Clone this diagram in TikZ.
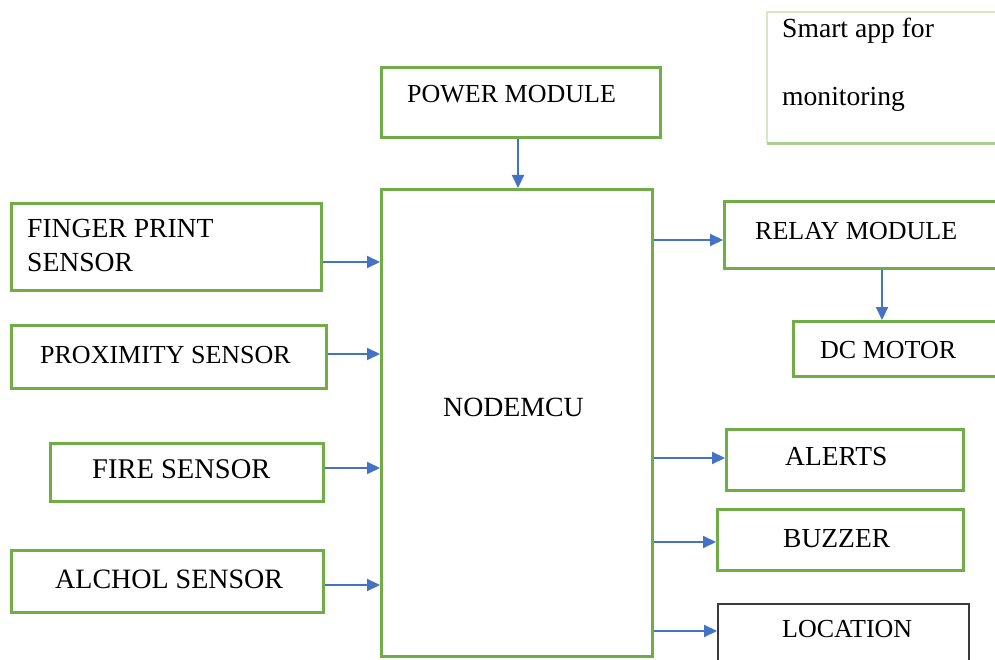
\documentclass[tikz,border=0pt]{standalone}
\usepackage{fontspec}
\setmainfont{Liberation Serif}
\usetikzlibrary{arrows.meta}
\definecolor{boxgreen}{HTML}{70AD47}
\definecolor{lightgreen}{HTML}{D5E8C8}
\definecolor{midgreen}{HTML}{A9D18E}
\definecolor{arrowblue}{HTML}{4472C4}
\definecolor{locgray}{HTML}{3A3A3A}
\tikzset{
  box/.style={draw=boxgreen, line width=3pt, inner sep=0pt, anchor=north west},
  lbl/.style={inner sep=0pt, anchor=base west, font=\fontsize{26}{30}\selectfont},
  lblsz/.style={inner sep=0pt, anchor=base west, font=\fontsize{#1}{30}\selectfont},
  conn/.style={draw=arrowblue, line width=2pt, -{Triangle[length=13pt,width=12pt]}}
}
\begin{document}
\begin{tikzpicture}[x=1pt,y=-1pt]
\clip (0,0) rectangle (995,660);
\fill[white] (0,0) rectangle (995,660);
% boxes
\node[box, minimum width=279pt, minimum height=70pt] (pm) at (380,66) {};
\node[box, minimum width=271pt, minimum height=467pt] (mcu) at (380,188) {};
\node[box, minimum width=310pt, minimum height=87pt] (fp) at (10,202) {};
\node[box, minimum width=315pt, minimum height=63pt] (prox) at (10,324) {};
\node[box, minimum width=273pt, minimum height=58pt] (fire) at (49,442) {};
\node[box, minimum width=312pt, minimum height=62pt] (alc) at (10,549) {};
\node[box, minimum width=290pt, minimum height=67pt] (relay) at (723,200) {};
\node[box, minimum width=220pt, minimum height=55pt] (dc) at (792,320) {};
\node[box, minimum width=237pt, minimum height=61pt] (alerts) at (725,428) {};
\node[box, minimum width=246pt, minimum height=61pt] (buzz) at (716,508) {};
\node[box, draw=locgray, line width=2.4pt, minimum width=251pt, minimum height=80pt] (loc) at (717,603) {};
\node[inner sep=0pt, anchor=north west, minimum width=250pt, minimum height=131pt] (app) at (767,12) {};
\draw[lightgreen, line width=1.8pt] (app.south west) -- (app.north west) -- (app.north east);
\draw[midgreen, line width=3pt] (app.south west) -- (app.south east);
% labels
\node[lbl] (tpm) at (407,103) {POWER MODULE};
\node[lblsz=27.8] (tmcu) at (443,416) {NODEMCU};
\node[lblsz=27.6] (tfp1) at (27,238) {FINGER PRINT};
\node[lblsz=27.6] (tfp2) at (27,272) {SENSOR};
\node[lbl] (tprox) at (40,363) {PROXIMITY SENSOR};
\node[lblsz=28.5] (tfire) at (92,478) {FIRE SENSOR};
\node[lblsz=28] (talc) at (55,588) {ALCHOL SENSOR};
\node[lbl] (trelay) at (755,240) {RELAY MODULE};
\node[lbl] (tdc) at (820,358) {DC MOTOR};
\node[lblsz=27.5] (talerts) at (785,465) {ALERTS};
\node[lblsz=27.5] (tbuzz) at (783,547) {BUZZER};
\node[lbl] (tloc) at (782,637) {LOCATION};
\node[lblsz=27.6] (tapp1) at (782,38) {Smart app for};
\node[lblsz=27.6] (tapp2) at (782,106) {monitoring};
% connectors
\draw[conn] (pm.south -| 518,0) -- (mcu.north -| 518,0);
\draw[conn] (fp.east |- 0,262) -- (mcu.west |- 0,262);
\draw[conn] (prox.east |- 0,354) -- (mcu.west |- 0,354);
\draw[conn] (fire.east |- 0,468) -- (mcu.west |- 0,468);
\draw[conn] (alc.east |- 0,585) -- (mcu.west |- 0,585);
\draw[conn] (mcu.east |- 0,240) -- (relay.west |- 0,240);
\draw[conn] (relay.south -| 882,0) -- (dc.north -| 882,0);
\draw[conn] (mcu.east |- 0,458) -- (alerts.west |- 0,458);
\draw[conn] (mcu.east |- 0,542) -- (buzz.west |- 0,542);
\draw[conn] (mcu.east |- 0,631) -- (loc.west |- 0,631);
\end{tikzpicture}
\end{document}
